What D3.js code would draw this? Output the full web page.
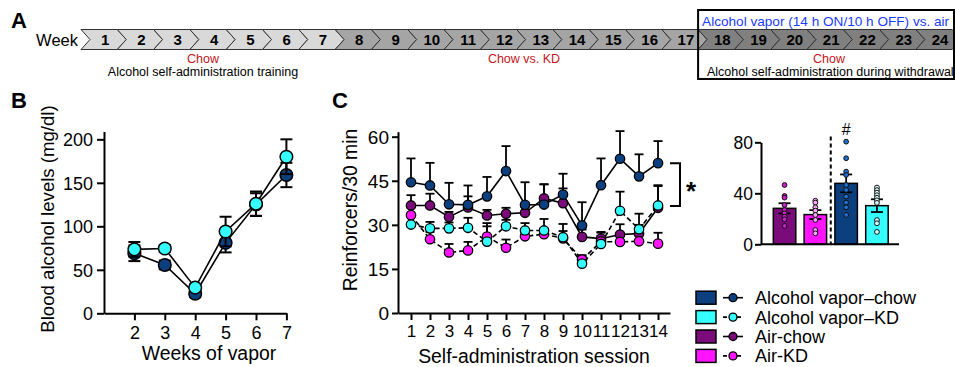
<!DOCTYPE html>
<html>
<head>
<meta charset="utf-8">
<script src="https://cdn.jsdelivr.net/npm/d3@7"></script>
<style>
  body { margin: 0; background: #fff; }
  svg { display: block; font-family: "Liberation Sans", Arial, sans-serif; }
</style>
</head>
<body>
<script>
// ---- panel A: timeline ----
var weeks = ["1", "2", "3", "4", "5", "6", "7", "8", "9", "10", "11", "12",
  "13", "14", "15", "16", "17", "18", "19", "20", "21", "22", "23", "24"];
var weekPhase = ["train", "train", "train", "train", "train", "train", "train",
  "diet", "diet", "diet", "diet", "diet", "diet", "diet", "diet", "diet", "diet",
  "vapor", "vapor", "vapor", "vapor", "vapor", "vapor", "vapor"];

// ---- panel B: blood alcohol levels ----
var vaporWeeks = [2, 3, 4, 5, 6, 7];
var bacChow = [69, 55.6, 22.5, 81, 125, 159];
var bacChowSem = [9, 5, 4, 11, 13, 14];
var bacKD = [73.5, 74.5, 29.5, 94, 126, 180];
var bacKDSem = [8.5, 4, 4, 17, 14, 20];

// ---- panel C: reinforcers per session ----
var sessions = [1, 2, 3, 4, 5, 6, 7, 8, 9, 10, 11, 12, 13, 14];
var airChow = [36.6, 36.6, 32.7, 35.9, 33.2, 33.8, 34.1, 39.0, 37.4, 25.9, 25.3, 26.7, 27.0, 35.8];
var airChowSem = [3.5, 4.0, 1.7, 3.8, 1.9, 2.0, 2.0, 4.8, 5.0, 2.5, 2.0, 3.5, 3.0, 7.7];
var airKD = [33.3, 25.1, 20.6, 21.3, 26.0, 22.2, 26.1, 26.8, 25.4, 18.2, 24.3, 24.2, 24.4, 23.6];
var airKDSem = [3.0, 2.5, 2.9, 2.9, 3.5, 2.8, 2.0, 2.0, 2.5, 1.5, 2.0, 2.0, 3.0, 3.7];
var vapKD = [30.1, 28.8, 28.8, 29.0, 24.3, 29.5, 28.1, 28.1, 25.8, 16.8, 23.5, 34.8, 28.5, 36.6];
var vapKDSem = [3.2, 2.2, 2.0, 3.4, 6.3, 2.2, 2.5, 3.9, 4.5, 2.5, 4.1, 6.5, 5.3, 6.6];
var vapChow = [44.5, 43.4, 37.0, 36.8, 39.7, 48.3, 36.8, 36.9, 40.3, 29.8, 43.5, 52.5, 46.5, 51.0];
var vapChowSem = [8.1, 7.7, 7.3, 6.6, 6.6, 8.5, 7.7, 6.9, 7.1, 7.9, 9.1, 9.4, 7.5, 7.5];

// ---- panel C inset: averages ----
var barGroups = ["Air-chow", "Air-KD", "Alcohol vapor–chow", "Alcohol vapor–KD"];
var barMeans = [28.2, 23.3, 47.8, 30.3];
var barSems = [4, 3.5, 7, 5];
var barPoints = [
  [46.5, 37.9, 36.6, 30.8, 26.9, 24.3, 21.7, 19.6, 14.4],
  [34.2, 32.7, 29, 26.4, 23, 19.1, 11.2, 8.6],
  [80.5, 67.5, 57, 54.4, 46.5, 42.6, 37.4, 32.7, 29, 23],
  [44.5, 42.5, 40.5, 38.5, 36.5, 34.5, 32.5, 19, 16.5, 9.7]
];

// legend
var legendNames = ["Alcohol vapor–chow", "Alcohol vapor–KD", "Air-chow", "Air-KD"];

var colors = {
  "Alcohol vapor–chow": "#0b3f7e",
  "Alcohol vapor–KD": "#35ffff",
  "Air-chow": "#7b0a7b",
  "Air-KD": "#ff14ff"
};
var pointFill = {
  "Air-chow": "#c81fc8",
  "Air-KD": "#f9a6f9",
  "Alcohol vapor–chow": "#1f6fd0",
  "Alcohol vapor–KD": "#d8ffff"
};
var phaseFill = { train: "#d9d9d9", diet: "#a5a5a5", vapor: "#808080" };

var svg = d3.select("body").append("svg")
  .attr("width", 955)
  .attr("height", 367);

function panelLetter(txt, x, y) {
  svg.append("text")
    .attr("x", x).attr("y", y)
    .attr("font-size", 22)
    .attr("font-weight", "bold")
    .text(txt);
}

function styleAxis(g, fs) {
  g.selectAll("path, line").attr("stroke", "#000").attr("stroke-width", 2);
  g.selectAll("text")
    .attr("font-size", fs)
    .attr("fill", "#000")
    .attr("font-family", "'Liberation Sans', Arial, sans-serif");
}

// ================= A =================
panelLetter("A", 11, 28);

var xW = d3.scaleBand().domain(weeks).range([81, 81 + 24 * 36.3]);
var tip = 9, barTop = 29.5, barBot = 49.5, barMid = (barTop + barBot) / 2;

svg.append("text")
  .attr("x", 78).attr("y", 46)
  .attr("text-anchor", "end")
  .attr("font-size", 16.5)
  .text("Week");

var seg = svg.selectAll(".seg")
  .data(weeks)
  .enter()
  .append("g")
  .attr("class", "seg");

seg.append("path")
  .attr("d", function (d) {
    var x0 = xW(d), x1 = x0 + xW.bandwidth();
    return "M" + x0 + "," + barTop + "L" + x1 + "," + barTop + "L" + (x1 + tip) + "," + barMid +
      "L" + x1 + "," + barBot + "L" + x0 + "," + barBot + "L" + (x0 + tip) + "," + barMid + "Z";
  })
  .attr("fill", function (d, i) { return phaseFill[weekPhase[i]]; })
  .attr("stroke", "#333")
  .attr("stroke-width", 1);

seg.append("text")
  .attr("x", function (d) { return xW(d) + xW.bandwidth() / 2 + 6; })
  .attr("y", 45)
  .attr("text-anchor", "middle")
  .attr("font-size", 15)
  .attr("font-weight", "bold")
  .text(function (d) { return d; });

function phaseNote(x, y, txt, color, anchor) {
  svg.append("text")
    .attr("x", x).attr("y", y)
    .attr("text-anchor", anchor || "middle")
    .attr("font-size", 12.5)
    .attr("fill", color)
    .text(txt);
}
phaseNote(203, 63, "Chow", "#c4161c");
phaseNote(203, 76, "Alcohol self-administration training", "#000");
phaseNote(524, 63, "Chow vs. KD", "#c4161c");
phaseNote(829, 63, "Chow", "#c4161c");
phaseNote(707, 76, "Alcohol self-administration during withdrawal", "#000", "start");

svg.append("rect")
  .attr("x", xW("18"))
  .attr("y", 10)
  .attr("width", 954 - xW("18"))
  .attr("height", 69)
  .attr("fill", "none")
  .attr("stroke", "#000")
  .attr("stroke-width", 2);

svg.append("text")
  .attr("x", xW("18") + 4).attr("y", 26)
  .attr("font-size", 13.6)
  .attr("fill", "#1a3cff")
  .text("Alcohol vapor (14 h ON/10 h OFF) vs. air");

// ================= B =================
panelLetter("B", 11, 108);

var xB = d3.scaleLinear().domain([1, 7]).range([104, 286.4]);
var yB = d3.scaleLinear().domain([0, 209]).range([313.3, 131.5]);

var gBx = svg.append("g")
  .attr("transform", "translate(0," + yB(0) + ")")
  .call(d3.axisBottom(xB).tickValues(vaporWeeks).tickFormat(d3.format("d"))
    .tickSize(7).tickSizeOuter(0).tickPadding(6));
styleAxis(gBx, 18);

var gBy = svg.append("g")
  .attr("transform", "translate(" + xB(1) + ",0)")
  .call(d3.axisLeft(yB).tickValues([0, 50, 100, 150, 200]).tickSize(7).tickSizeOuter(0).tickPadding(4));
styleAxis(gBy, 18);
gBy.selectAll("text").attr("dy", "0.36em");

svg.append("text")
  .attr("transform", "translate(54," + 219 + ") rotate(-90)")
  .attr("text-anchor", "middle")
  .attr("font-size", 18.6)
  .text("Blood alcohol levels (mg/dl)");

svg.append("text")
  .attr("x", 209).attr("y", 360)
  .attr("text-anchor", "middle")
  .attr("font-size", 19.4)
  .text("Weeks of vapor");

var bSeries = [
  { key: "Alcohol vapor–chow", mean: bacChow, sem: bacChowSem },
  { key: "Alcohol vapor–KD", mean: bacKD, sem: bacKDSem }
];

var lineB = d3.line()
  .x(function (d) { return xB(d.w); })
  .y(function (d) { return yB(d.v); });

bSeries.forEach(function (s) {
  var pts = vaporWeeks.map(function (w, i) { return { w: w, v: s.mean[i], e: s.sem[i] }; });
  var g = svg.append("g");
  g.append("path")
    .attr("d", lineB(pts))
    .attr("fill", "none")
    .attr("stroke", "#000")
    .attr("stroke-width", 1.6);
  var eb = g.selectAll(".eb").data(pts).enter().append("g");
  eb.append("line")
    .attr("x1", function (d) { return xB(d.w); })
    .attr("x2", function (d) { return xB(d.w); })
    .attr("y1", function (d) { return yB(d.v - d.e); })
    .attr("y2", function (d) { return yB(d.v + d.e); })
    .attr("stroke", "#000").attr("stroke-width", 2);
  [-1, 1].forEach(function (sg) {
    eb.append("line")
      .attr("x1", function (d) { return xB(d.w) - 6; })
      .attr("x2", function (d) { return xB(d.w) + 6; })
      .attr("y1", function (d) { return yB(d.v + sg * d.e); })
      .attr("y2", function (d) { return yB(d.v + sg * d.e); })
      .attr("stroke", "#000").attr("stroke-width", 2);
  });
  g.selectAll("circle").data(pts).enter().append("circle")
    .attr("cx", function (d) { return xB(d.w); })
    .attr("cy", function (d) { return yB(d.v); })
    .attr("r", 6.3)
    .attr("fill", colors[s.key])
    .attr("stroke", "#000")
    .attr("stroke-width", 1.5);
});

// ================= C =================
panelLetter("C", 332, 108);

var xC = d3.scaleLinear().domain([0.316, 14.63]).range([398, 670]);
var yC = d3.scaleLinear().domain([0, 61.7]).range([313, 131.7]);

var gCx = svg.append("g")
  .attr("transform", "translate(0," + yC(0) + ")")
  .call(d3.axisBottom(xC).tickValues(sessions).tickFormat(d3.format("d"))
    .tickSize(7).tickSizeOuter(0).tickPadding(5));
styleAxis(gCx, 17);

var gCy = svg.append("g")
  .attr("transform", "translate(" + xC.range()[0] + ",0)")
  .call(d3.axisLeft(yC).tickValues([0, 15, 30, 45, 60]).tickSize(6).tickSizeOuter(0).tickPadding(3));
styleAxis(gCy, 19);
gCy.selectAll("text").attr("dy", "0.36em");

svg.append("text")
  .attr("transform", "translate(357,210) rotate(-90)")
  .attr("text-anchor", "middle")
  .attr("font-size", 19.4)
  .text("Reinforcers/30 min");

svg.append("text")
  .attr("x", 534).attr("y", 363)
  .attr("text-anchor", "middle")
  .attr("font-size", 19.4)
  .text("Self-administration session");

var cSeries = [
  { key: "Air-chow", mean: airChow, sem: airChowSem, dash: null },
  { key: "Air-KD", mean: airKD, sem: airKDSem, dash: "5,3" },
  { key: "Alcohol vapor–KD", mean: vapKD, sem: vapKDSem, dash: "5,3" },
  { key: "Alcohol vapor–chow", mean: vapChow, sem: vapChowSem, dash: null }
];

var lineC = d3.line()
  .x(function (d) { return xC(d.s); })
  .y(function (d) { return yC(d.v); });

// error bars first (above only)
cSeries.forEach(function (s) {
  var pts = sessions.map(function (k, i) { return { s: k, v: s.mean[i], e: s.sem[i] }; });
  var g = svg.append("g");
  g.selectAll(".v").data(pts).enter().append("line")
    .attr("x1", function (d) { return xC(d.s); })
    .attr("x2", function (d) { return xC(d.s); })
    .attr("y1", function (d) { return yC(d.v); })
    .attr("y2", function (d) { return yC(d.v + d.e); })
    .attr("stroke", "#000").attr("stroke-width", 1.8);
  g.selectAll(".c").data(pts).enter().append("line")
    .attr("x1", function (d) { return xC(d.s) - 4.5; })
    .attr("x2", function (d) { return xC(d.s) + 4.5; })
    .attr("y1", function (d) { return yC(d.v + d.e); })
    .attr("y2", function (d) { return yC(d.v + d.e); })
    .attr("stroke", "#000").attr("stroke-width", 1.8);
});

cSeries.forEach(function (s) {
  var pts = sessions.map(function (k, i) { return { s: k, v: s.mean[i] }; });
  var g = svg.append("g");
  g.append("path")
    .attr("d", lineC(pts))
    .attr("fill", "none")
    .attr("stroke", "#000")
    .attr("stroke-width", 1.6)
    .attr("stroke-dasharray", s.dash);
  g.selectAll("circle").data(pts).enter().append("circle")
    .attr("cx", function (d) { return xC(d.s); })
    .attr("cy", function (d) { return yC(d.v); })
    .attr("r", 4.7)
    .attr("fill", colors[s.key])
    .attr("stroke", "#000")
    .attr("stroke-width", 1.3);
});

// significance bracket
var brX = 680;
svg.append("path")
  .attr("d", "M" + (brX - 10) + "," + yC(51) + "H" + brX + "V" + yC(36.4) + "H" + (brX - 10))
  .attr("fill", "none")
  .attr("stroke", "#000")
  .attr("stroke-width", 2);
svg.append("text")
  .attr("x", 691).attr("y", 200)
  .attr("text-anchor", "middle")
  .attr("font-size", 26)
  .attr("font-weight", "bold")
  .text("*");

// ---- inset bars ----
var xI = d3.scaleBand().domain(barGroups).range([765, 896.5]).padding(0.27);
var yI = d3.scaleLinear().domain([0, 80]).range([244.3, 142.3]);

var gIy = svg.append("g")
  .attr("transform", "translate(761,0)")
  .call(d3.axisLeft(yI).tickValues([0, 40, 80]).tickSize(6).tickSizeOuter(0).tickPadding(2));
styleAxis(gIy, 17.5);
gIy.selectAll("text").attr("dy", "0.36em");

svg.selectAll(".bar")
  .data(barGroups)
  .enter()
  .append("rect")
  .attr("class", "bar")
  .attr("x", function (d) { return xI(d); })
  .attr("y", function (d, i) { return yI(barMeans[i]); })
  .attr("width", xI.bandwidth())
  .attr("height", function (d, i) { return yI(0) - yI(barMeans[i]); })
  .attr("fill", function (d) { return colors[d]; })
  .attr("stroke", "#000")
  .attr("stroke-width", 1.5);

svg.append("line")
  .attr("x1", 761).attr("x2", 899)
  .attr("y1", yI(0)).attr("y2", yI(0))
  .attr("stroke", "#000").attr("stroke-width", 2);

barGroups.forEach(function (gname, i) {
  var cx = xI(gname) + xI.bandwidth() / 2;
  var m = barMeans[i], e = barSems[i];
  svg.append("line")
    .attr("x1", cx).attr("x2", cx)
    .attr("y1", yI(m - e)).attr("y2", yI(m + e))
    .attr("stroke", "#000").attr("stroke-width", 1.8);
  [m - e, m + e].forEach(function (v) {
    svg.append("line")
      .attr("x1", cx - 6).attr("x2", cx + 6)
      .attr("y1", yI(v)).attr("y2", yI(v))
      .attr("stroke", "#000").attr("stroke-width", 1.8);
  });
  svg.selectAll(".pt" + i)
    .data(barPoints[i])
    .enter()
    .append("circle")
    .attr("cx", cx)
    .attr("cy", function (d) { return yI(d); })
    .attr("r", 2.4)
    .attr("fill", pointFill[gname])
    .attr("stroke", "#111")
    .attr("stroke-width", 1);
});

// divider between air and vapor groups
var divX = (xI(barGroups[1]) + xI.bandwidth() + xI(barGroups[2])) / 2;
svg.append("line")
  .attr("x1", divX).attr("x2", divX)
  .attr("y1", 136.5).attr("y2", yI(0))
  .attr("stroke", "#000")
  .attr("stroke-width", 2)
  .attr("stroke-dasharray", "4,3");

svg.append("text")
  .attr("x", xI(barGroups[2]) + xI.bandwidth() / 2)
  .attr("y", 135)
  .attr("text-anchor", "middle")
  .attr("font-size", 16)
  .text("#");

// ---- legend ----
var leg = svg.selectAll(".legend")
  .data(legendNames)
  .enter()
  .append("g")
  .attr("class", "legend")
  .attr("transform", function (d, i) { return "translate(696," + (297.7 + i * 19.4) + ")"; });

leg.append("rect")
  .attr("x", 0).attr("y", -6.5)
  .attr("width", 20).attr("height", 13)
  .attr("fill", function (d) { return colors[d]; })
  .attr("stroke", "#000")
  .attr("stroke-width", 1.5);

leg.append("line")
  .attr("x1", 27).attr("x2", 47)
  .attr("y1", 0).attr("y2", 0)
  .attr("stroke", "#000")
  .attr("stroke-width", 1.6)
  .attr("stroke-dasharray", function (d) { return d.indexOf("KD") >= 0 ? "4,3" : null; });

leg.append("circle")
  .attr("cx", 37).attr("cy", 0).attr("r", 4)
  .attr("fill", function (d) { return colors[d]; })
  .attr("stroke", "#000")
  .attr("stroke-width", 1.3);

leg.append("text")
  .attr("x", 59).attr("y", 6.5)
  .attr("font-size", 18)
  .text(function (d) { return d; });
</script>
</body>
</html>
